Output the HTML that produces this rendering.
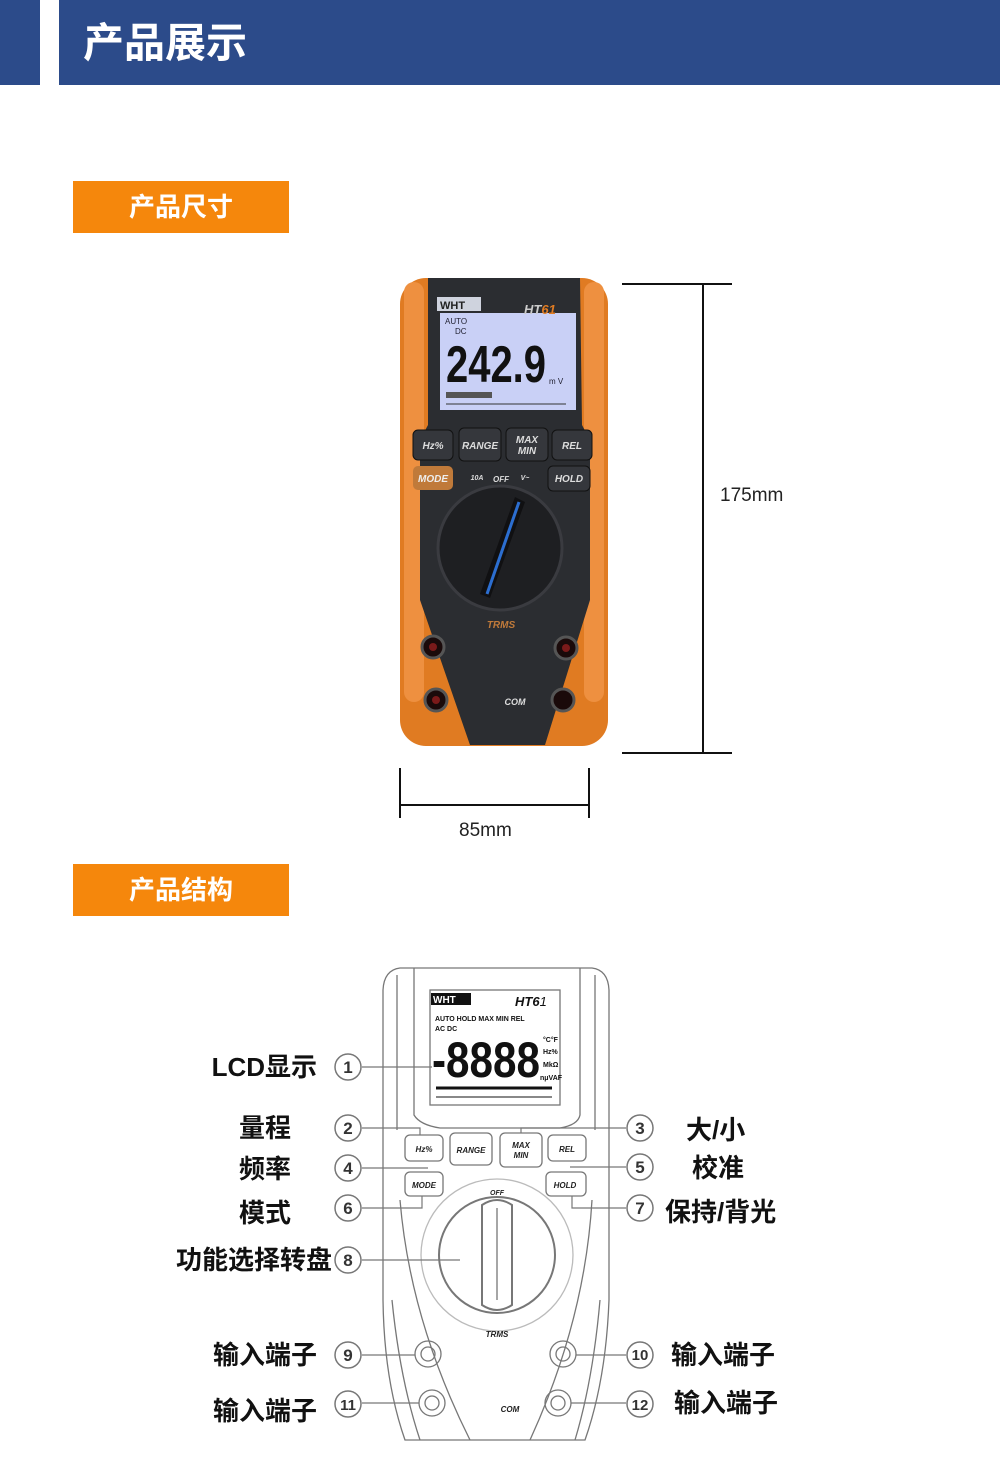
<!DOCTYPE html>
<html><head><meta charset="utf-8"><style>
body{margin:0;width:1000px;height:1472px;background:#fff;position:relative;overflow:hidden;font-family:"Liberation Sans","Noto Sans CJK SC",sans-serif}
.a{position:absolute}
.hdr{background:#2c4b8a}
.tag{background:#f5870c;color:#fff;font-weight:bold;font-size:26px;text-align:center;line-height:52px;width:216px;height:52px;left:73px}
.lbl{position:absolute;font-weight:bold;font-size:26px;color:#111;line-height:30px;white-space:nowrap}
</style></head><body>
<div class="a hdr" style="left:0;top:0;width:40px;height:85px"></div>
<div class="a hdr" style="left:59px;top:0;width:941px;height:85px"></div>
<div class="a" style="left:83px;top:18px;color:#fff;font-weight:bold;font-size:41px;line-height:50px">产品展示</div>
<div class="a tag" style="top:181px">产品尺寸</div>
<div class="a tag" style="top:864px">产品结构</div>

<svg class="a" style="left:0;top:0" width="1000" height="1472" viewBox="0 0 1000 1472">
<g stroke="#111" stroke-width="2" fill="none">
<line x1="622" y1="284" x2="732" y2="284"/><line x1="622" y1="753" x2="732" y2="753"/><line x1="703" y1="284" x2="703" y2="753"/>
<line x1="400" y1="768" x2="400" y2="818"/><line x1="589" y1="768" x2="589" y2="818"/><line x1="400" y1="805" x2="589" y2="805"/>
</g>
<text x="720" y="501" font-size="19" fill="#222" font-family="Liberation Sans">175mm</text>
<text x="459" y="836" font-size="19" fill="#222" font-family="Liberation Sans">85mm</text>

<rect x="400" y="278" width="208" height="468" rx="26" fill="#e07b22"/>
<rect x="404" y="282" width="20" height="420" rx="10" fill="#ee9040"/>
<rect x="584" y="282" width="20" height="420" rx="10" fill="#ee9040"/>
<path d="M428 278 L580 278 L582 425 L590 440 L590 600 L545 745 L470 745 L420 600 L420 440 L428 425 Z" fill="#2b2d31"/>
<rect x="440" y="313" width="136" height="97" fill="#c9d0f6"/>
<rect x="437" y="297" width="44" height="14" fill="#cfd3de"/>
<text x="440" y="309" font-size="11" font-weight="bold" fill="#222">WHT</text>
<text x="524" y="314" font-size="13" font-weight="bold" font-style="italic" fill="#ccc">HT<tspan fill="#e07b22">61</tspan></text>
<text x="445" y="324" font-size="8" fill="#223">AUTO</text>
<text x="455" y="334" font-size="8" fill="#223">DC</text>
<text x="446" y="382" font-size="52" font-weight="bold" fill="#111" textLength="100" lengthAdjust="spacingAndGlyphs">242.9</text>
<text x="549" y="384" font-size="8" fill="#223">m V</text>
<rect x="446" y="392" width="46" height="6" fill="#555"/>
<line x1="446" y1="404" x2="566" y2="404" stroke="#333"/>
<g fill="#35373c" stroke="#111">
<rect x="413" y="430" width="40" height="30" rx="5"/><rect x="459" y="428" width="42" height="33" rx="5"/><rect x="506" y="428" width="42" height="33" rx="5"/><rect x="552" y="430" width="40" height="30" rx="5"/>
<rect x="548" y="466" width="42" height="25" rx="5"/>
</g>
<rect x="413" y="466" width="40" height="24" rx="5" fill="#c07a3a"/>
<g fill="#ddd" font-size="10" font-weight="bold" font-style="italic" text-anchor="middle">
<text x="433" y="449">Hz%</text><text x="480" y="449">RANGE</text><text x="527" y="443">MAX</text><text x="527" y="454">MIN</text><text x="572" y="449">REL</text><text x="569" y="482">HOLD</text><text x="433" y="482" fill="#eee">MODE</text>
<text x="501" y="482" font-size="8">OFF</text><text x="477" y="480" font-size="7">10A</text><text x="525" y="480" font-size="7">V~</text>
<text x="501" y="628" font-size="10" fill="#c07a3a">TRMS</text><text x="515" y="705" font-size="9">COM</text>
</g>
<circle cx="500" cy="548" r="62" fill="#1e1f22" stroke="#3a3b40" stroke-width="3"/>
<path d="M515 497 L525 502 L490 598 L480 594 Z" fill="#101012"/>
<line x1="519" y1="502" x2="487" y2="594" stroke="#2c6ed0" stroke-width="3"/>
<g fill="#1a0a0a" stroke="#555" stroke-width="3">
<circle cx="433" cy="647" r="11"/><circle cx="566" cy="648" r="11"/><circle cx="436" cy="700" r="11"/><circle cx="563" cy="700" r="11"/>
</g>
<g fill="#7a1a1a"><circle cx="433" cy="647" r="4"/><circle cx="566" cy="648" r="4"/><circle cx="436" cy="700" r="4"/></g>

<g fill="none" stroke="#777" stroke-width="1.3">
<path d="M400 968 L592 968 Q608 970 609 990 L609 1300 Q606 1380 585 1440 L405 1440 Q384 1380 383 1300 L383 990 Q384 970 400 968 Z"/>
<path d="M397 975 L397 1130 M595 975 L595 1130"/>
<path d="M414 968 L414 1115 Q420 1125 440 1128 L560 1128 Q578 1125 580 1115 L580 968"/>
<rect x="430" y="990" width="130" height="115"/>
<path d="M400 1200 Q410 1320 470 1440 M592 1200 Q585 1320 530 1440"/>
<path d="M392 1300 Q400 1380 420 1440 M600 1300 Q593 1380 575 1440"/>
<circle cx="497" cy="1255" r="76" stroke="#bbb"/>
<circle cx="497" cy="1255" r="58" stroke-width="2"/>
<path d="M482 1205 Q497 1195 512 1205 L512 1305 Q497 1315 482 1305 Z" fill="#fff" stroke-width="2"/>
<line x1="497" y1="1208" x2="497" y2="1300"/>
<rect x="405" y="1135" width="38" height="26" rx="5"/><rect x="450" y="1133" width="42" height="32" rx="5"/><rect x="500" y="1133" width="42" height="34" rx="5"/><rect x="548" y="1135" width="38" height="26" rx="5"/>
<rect x="405" y="1172" width="38" height="24" rx="5"/><rect x="546" y="1172" width="40" height="24" rx="5"/>
<circle cx="428" cy="1354" r="13"/><circle cx="428" cy="1354" r="7"/><circle cx="563" cy="1354" r="13"/><circle cx="563" cy="1354" r="7"/>
<circle cx="432" cy="1403" r="13"/><circle cx="432" cy="1403" r="7"/><circle cx="558" cy="1403" r="13"/><circle cx="558" cy="1403" r="7"/>
</g>
<rect x="431" y="993" width="40" height="12" fill="#111"/>
<text x="433" y="1003" font-size="10" font-weight="bold" fill="#fff">WHT</text>
<text x="515" y="1006" font-size="13" font-weight="bold" font-style="italic" fill="#111">HT6<tspan font-weight="normal">1</tspan></text>
<text x="435" y="1021" font-size="7" font-weight="bold" fill="#111">AUTO HOLD MAX MIN REL</text>
<text x="435" y="1031" font-size="7" font-weight="bold" fill="#111">AC DC</text>
<text x="432" y="1077" font-size="50" font-weight="bold" fill="#111" textLength="108" lengthAdjust="spacingAndGlyphs">-8888</text>
<g font-size="7" font-weight="bold" fill="#111"><text x="543" y="1042">°C°F</text><text x="543" y="1054">Hz%</text><text x="543" y="1067">MkΩ</text><text x="540" y="1080">nμVAF</text></g>
<line x1="436" y1="1088" x2="552" y2="1088" stroke="#111" stroke-width="3"/>
<line x1="436" y1="1097" x2="552" y2="1097" stroke="#111"/>
<g fill="#222" font-size="8" font-weight="bold" font-style="italic" text-anchor="middle">
<text x="424" y="1152">Hz%</text><text x="471" y="1153">RANGE</text><text x="521" y="1148">MAX</text><text x="521" y="1158">MIN</text><text x="567" y="1152">REL</text><text x="424" y="1188">MODE</text><text x="565" y="1188">HOLD</text>
<text x="497" y="1195" font-size="7">OFF</text><text x="497" y="1337">TRMS</text><text x="510" y="1412">COM</text>
</g>

<g stroke="#777" stroke-width="1.2" fill="none">
<line x1="362" y1="1067" x2="432" y2="1067"/>
<path d="M362 1128 L420 1128 L420 1135"/><line x1="362" y1="1168" x2="428" y2="1168"/><path d="M362 1208 L422 1208 L422 1196"/>
<line x1="362" y1="1260" x2="460" y2="1260"/>
<line x1="362" y1="1355" x2="415" y2="1355"/><line x1="362" y1="1403" x2="419" y2="1403"/>
<path d="M626 1128 L521 1128 L521 1133"/><line x1="626" y1="1167" x2="570" y2="1167"/><path d="M626 1208 L572 1208 L572 1196"/>
<line x1="626" y1="1355" x2="576" y2="1355"/><line x1="626" y1="1403" x2="571" y2="1403"/>
</g>
<g fill="#fff" stroke="#777" stroke-width="1.5">
<circle cx="348" cy="1067" r="13"/><circle cx="348" cy="1128" r="13"/><circle cx="348" cy="1168" r="13"/><circle cx="348" cy="1208" r="13"/><circle cx="348" cy="1260" r="13"/><circle cx="348" cy="1355" r="13"/><circle cx="348" cy="1404" r="13"/>
<circle cx="640" cy="1128" r="13"/><circle cx="640" cy="1167" r="13"/><circle cx="640" cy="1208" r="13"/><circle cx="640" cy="1355" r="13"/><circle cx="640" cy="1404" r="13"/>
</g>
<g font-size="17" font-weight="bold" fill="#333" text-anchor="middle">
<text x="348" y="1073">1</text><text x="348" y="1134">2</text><text x="348" y="1174">4</text><text x="348" y="1214">6</text><text x="348" y="1266">8</text><text x="348" y="1361">9</text><text x="348" y="1410" font-size="15">11</text>
<text x="640" y="1134">3</text><text x="640" y="1173">5</text><text x="640" y="1214">7</text><text x="640" y="1360" font-size="15">10</text><text x="640" y="1410" font-size="15">12</text>
</g>
</svg>

<div class="lbl" style="right:683px;top:1052px">LCD显示</div>
<div class="lbl" style="right:709px;top:1113px">量程</div>
<div class="lbl" style="right:709px;top:1154px">频率</div>
<div class="lbl" style="right:709px;top:1198px">模式</div>
<div class="lbl" style="right:668px;top:1245px">功能选择转盘</div>
<div class="lbl" style="right:683px;top:1340px">输入端子</div>
<div class="lbl" style="right:683px;top:1396px">输入端子</div>
<div class="lbl" style="left:686px;top:1115px">大/小</div>
<div class="lbl" style="left:692px;top:1153px">校准</div>
<div class="lbl" style="left:665px;top:1197px">保持/背光</div>
<div class="lbl" style="left:671px;top:1340px">输入端子</div>
<div class="lbl" style="left:674px;top:1388px">输入端子</div>
</body></html>
